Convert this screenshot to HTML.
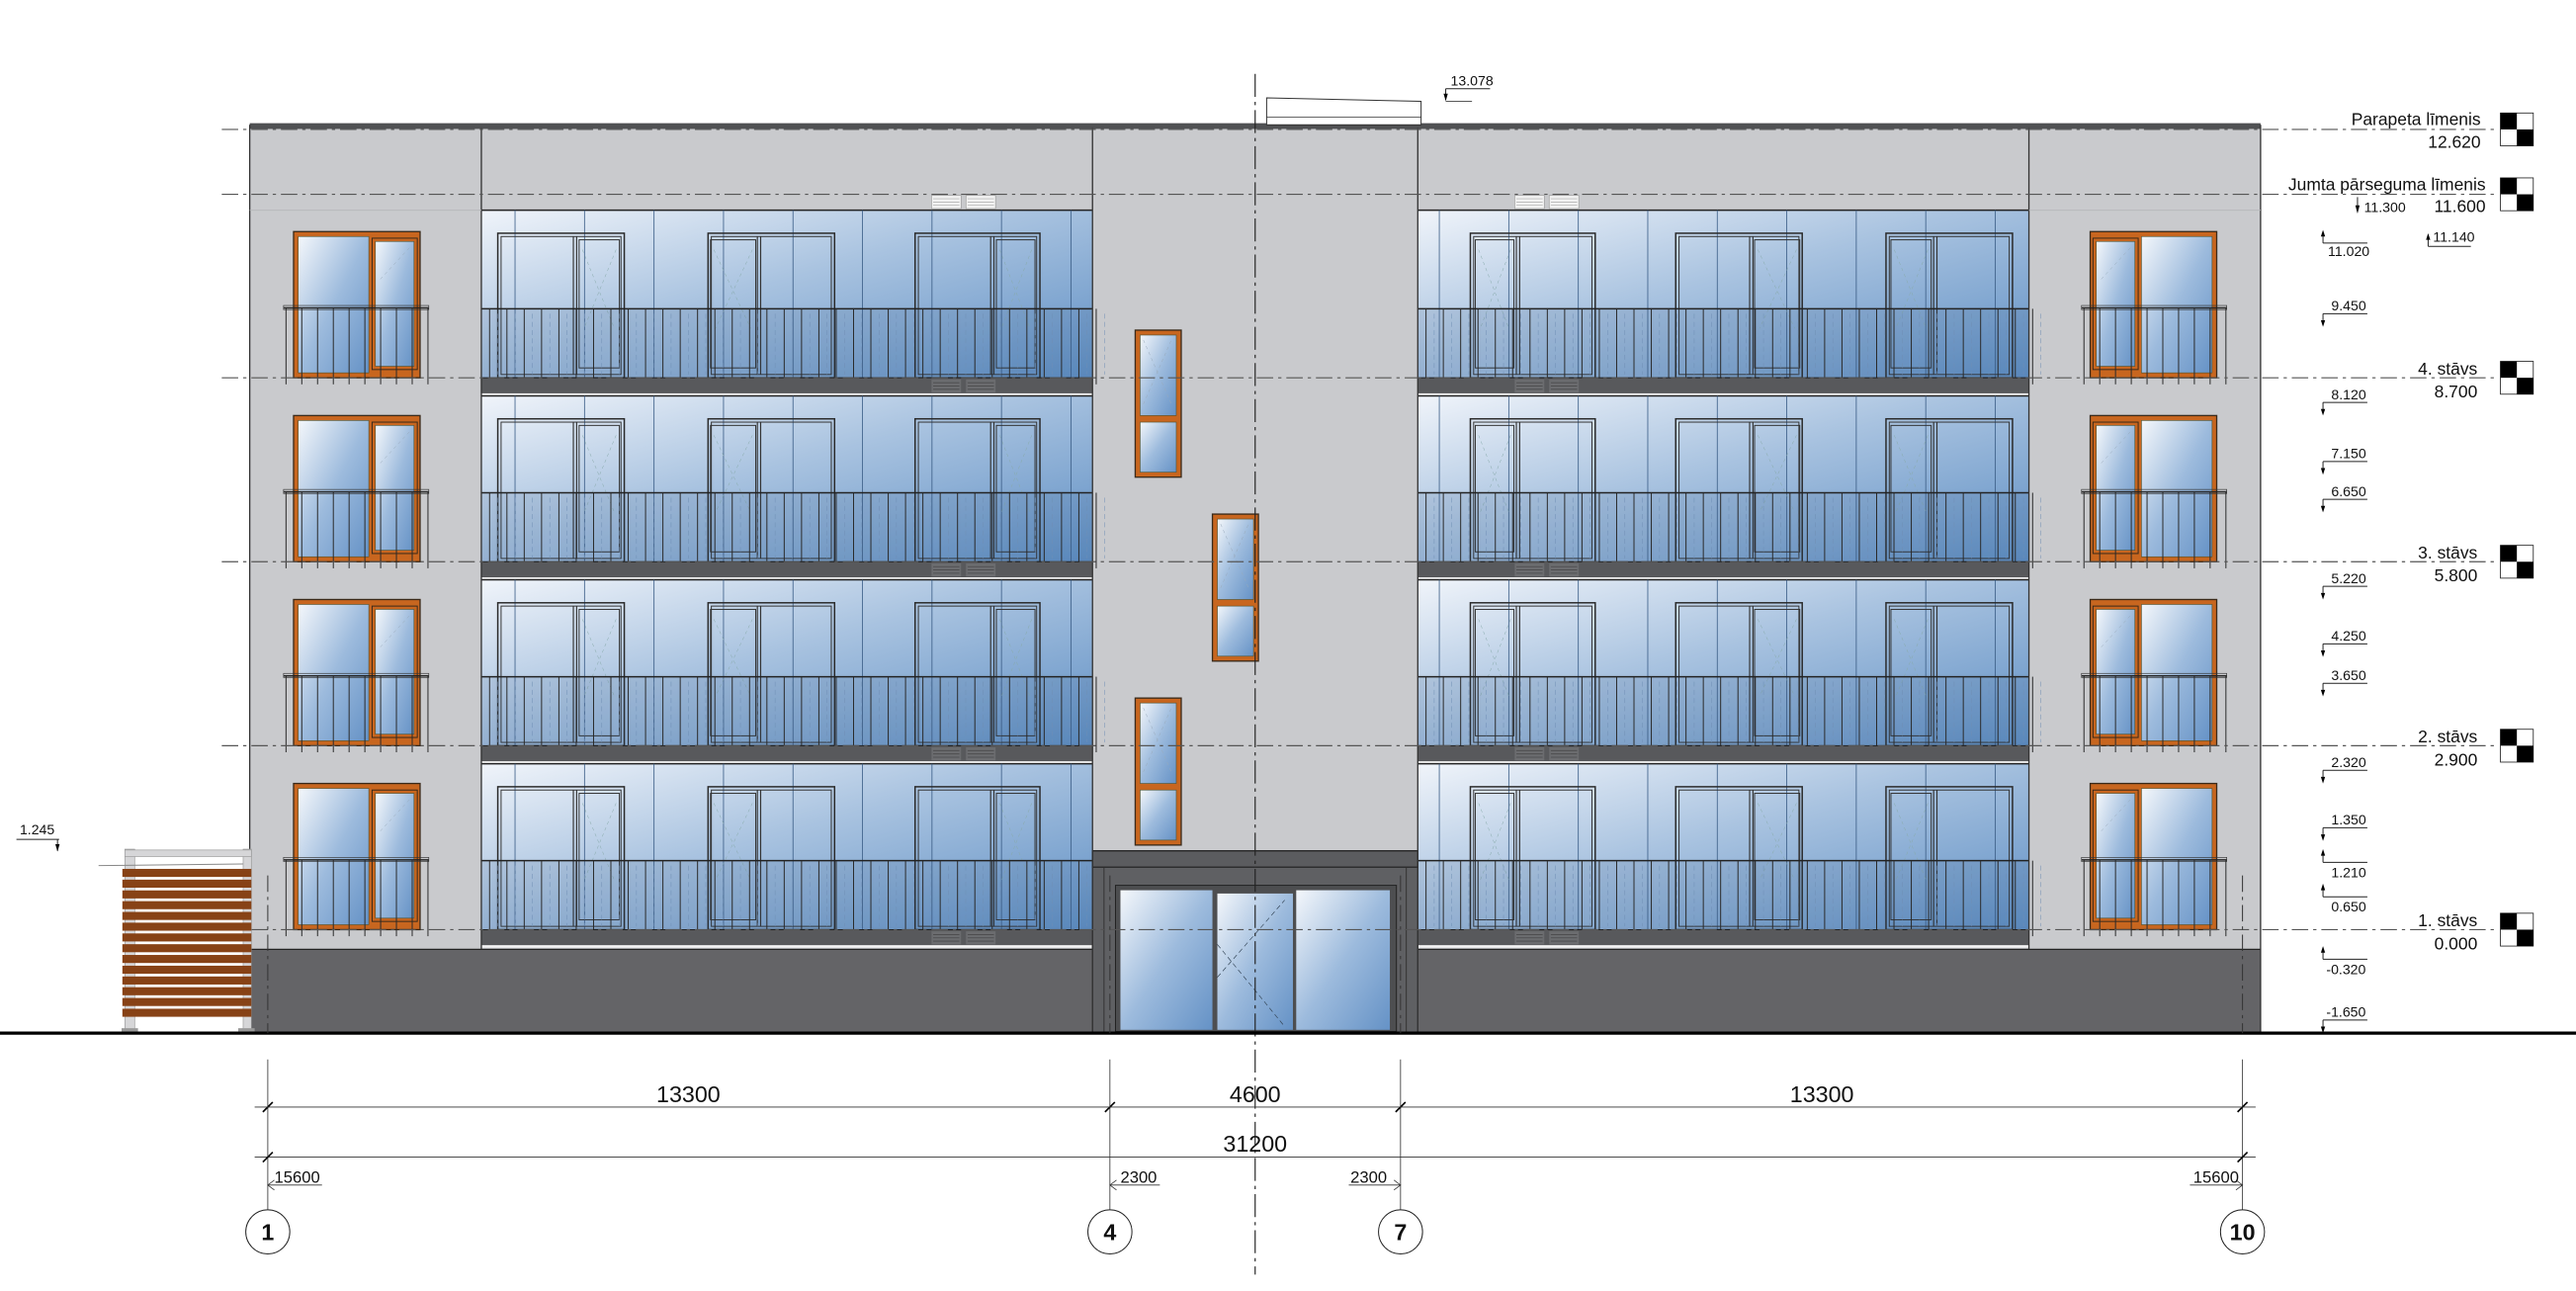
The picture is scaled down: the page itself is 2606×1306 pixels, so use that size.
<!DOCTYPE html>
<html><head><meta charset="utf-8">
<style>
html,body{margin:0;padding:0;background:#fff;}
svg{display:block;}
text{font-family:"Liberation Sans",Arial,sans-serif;fill:#111;}
</style></head>
<body>
<svg id="s" xmlns="http://www.w3.org/2000/svg" width="2606" height="1306" viewBox="0 0 1568 786" preserveAspectRatio="none">
<defs>
<linearGradient id="gl" x1="0" y1="0" x2="1" y2="1">
<stop offset="0" stop-color="#f0f4fa"/><stop offset="0.45" stop-color="#a9c3e0"/><stop offset="1" stop-color="#5f8fc4"/>
</linearGradient>
<linearGradient id="gw" x1="0" y1="0" x2="1" y2="1">
<stop offset="0" stop-color="#f4f7fb"/><stop offset="0.5" stop-color="#9dbbdd"/><stop offset="1" stop-color="#6592c6"/>
</linearGradient>
</defs>
<rect x="0" y="0" width="1568" height="786" fill="#fff"/>
<g id="bld"></g>
<g id="ann" font-size="8"></g>

<g font-size="10.5" text-anchor="end">
<text x="1510" y="76">Parapeta līmenis</text><text x="1510" y="90">12.620</text>
<text x="1513" y="116">Jumta pārseguma līmenis</text><text x="1513" y="129">11.600</text>
<text x="1508" y="228">4. stāvs</text><text x="1508" y="242">8.700</text>
<text x="1508" y="340">3. stāvs</text><text x="1508" y="354">5.800</text>
<text x="1508" y="452">2. stāvs</text><text x="1508" y="466">2.900</text>
<text x="1508" y="564">1. stāvs</text><text x="1508" y="578">0.000</text>
</g>
<g font-size="8.5">
<text x="1417" y="156">11.020</text>
<text x="1419" y="189">9.450</text>
<text x="1439" y="129">11.300</text>
<text x="1481" y="147">11.140</text>
<text x="1419" y="243">8.120</text>
<text x="1419" y="279">7.150</text>
<text x="1419" y="302">6.650</text>
<text x="1419" y="355">5.220</text>
<text x="1419" y="390">4.250</text>
<text x="1419" y="414">3.650</text>
<text x="1419" y="467">2.320</text>
<text x="1419" y="502">1.350</text>
<text x="1419" y="534">1.210</text>
<text x="1419" y="555">0.650</text>
<text x="1416" y="593">-0.320</text>
<text x="1416" y="619">-1.650</text>
<text x="883" y="52">13.078</text>
<text x="12" y="508">1.245</text>
</g>
<g font-size="14" text-anchor="middle">
<text x="419" y="671">13300</text>
<text x="764" y="671">4600</text>
<text x="1109" y="671">13300</text>
<text x="764" y="701">31200</text>
</g>
<g font-size="10">
<text x="167" y="720">15600</text>
<text x="682" y="720">2300</text>
<text x="822" y="720">2300</text>
<text x="1335" y="720">15600</text>
</g>
<g font-size="14" font-weight="bold" text-anchor="middle">
<text x="163" y="755">1</text>
<text x="675.6" y="755">4</text>
<text x="852.5" y="755">7</text>
<text x="1365" y="755">10</text>
</g>
</svg>
<script>
var NS="http://www.w3.org/2000/svg";
var B=document.getElementById('bld'), A=document.getElementById('ann');
function e(t,a,p){var n=document.createElementNS(NS,t);for(var k in a)n.setAttribute(k,a[k]);(p||B).appendChild(n);return n;}
function R(x,y,w,h,f,s,sw,p){return e('rect',{x:x,y:y,width:w,height:h,fill:f||'none',stroke:s||'none','stroke-width':sw||0.6},p);}
function L(x1,y1,x2,y2,s,sw,da,p){var a={x1:x1,y1:y1,x2:x2,y2:y2,stroke:s||'#222','stroke-width':sw||0.6};if(da)a['stroke-dasharray']=da;return e('line',a,p);}
function M(x){return 1528-x;}
var levels=[230,342,454,566];

R(152,78,1224,500,'#c9cacd');
R(665,78,198,451,'#c9cacd');
R(152,75,1224,3.5,'#505153');
R(152,578,513,51,'#646467');
R(863,578,513,51,'#646467');
L(152,578,665,578,'#222',0.8);L(863,578,1376,578,'#222',0.8);

function glazed(mir){
  var X=function(x){return mir?M(x):x;};
  var x0=293,x1=665;
  var gx=Math.min(X(x0),X(x1)), gw=372;
  [[567,585],[588,606]].forEach(function(v){var a=Math.min(X(v[0]),X(v[1]));R(a,119,18,8,'#f2f2f2','#999',0.4);for(var i=1;i<4;i++)L(a+1,119+i*2,a+17,119+i*2,'#aaa',0.4);});
  var prev=null;
  levels.forEach(function(Lv,i){
    var top=i==0?128:prev+11;
    R(gx,top,gw,Lv-top,'url(#gl)');
    L(gx,top,gx+gw,top,'#222',0.9);
    for(var k=0;k<9;k++){var mx=X(313.5+k*42.3);L(mx,top,mx,Lv,'#3d5f88',0.5);}
    var tw=top+14;
    [[303,349,351,380],[431,461,463,508],[557,603,605,633]].forEach(function(w){
      var a=Math.min(X(w[0]),X(w[3])), b=Math.max(X(w[0]),X(w[3]));
      R(a,tw,b-a,Lv-tw,'none','#2a2a2a',0.9);
      R(a+2,tw+2,b-a-4,Lv-tw-4,'none','#333',0.6);
      var s1=X(w[1]),s2=X(w[2]);
      L(s1,tw+2,s1,Lv-2,'#333',0.7);L(s2,tw+2,s2,Lv-2,'#333',0.7);
      var nA,nB; if(w[0]==431){nA=X(432.5);nB=X(460);}else{nA=X(w[2]+1.5);nB=X(w[3]-3);}
      var na=Math.min(nA,nB),nb=Math.max(nA,nB);
      R(na,tw+4,nb-na,Lv-tw-10,'none','#333',0.6);
      L(na+2,tw+10,nb-3,Lv-30,'#8aa',0.3,'2 2');L(nb-2,tw+10,na+3,Lv-30,'#8aa',0.3,'2 2');
    });
    var rt=Lv-42;
    R(gx,rt,gw,42,'rgba(50,80,120,0.12)');
    L(gx,rt,gx+gw,rt,'#222',0.9);
    for(var b=0;b<36;b++){var bx=gx+5+b*10.55;L(bx,rt,bx,Lv+4,'#2a2a2a',0.6);L(bx+5,rt+3,bx+5,Lv-2,'#6f8fb5',0.3,'3 2');}
    R(gx,Lv,gw,9.5,'#58595c');
    L(gx,Lv,gx+gw,Lv,'#222',0.6);
    [[567,585],[588,606]].forEach(function(v){var a=Math.min(X(v[0]),X(v[1]));R(a,Lv+1,18,8,'#6b6c6f');for(var j=1;j<4;j++)L(a+1,Lv+1+j*2,a+17,Lv+1+j*2,'#4a4a4c',0.5);});
    R(gx,Lv+9.5,gw,1.5,'#f4f4f4');
    prev=Lv;
  });
}
glazed(false);glazed(true);

function pier(mir){
  var X=function(x){return mir?M(x):x;};
  levels.forEach(function(Lv){
    var a=Math.min(X(178.7),X(255.7));
    R(a,Lv-89,77,89,'#c8661f','#3a2a1a',0.8);
    var p1a=Math.min(X(181.5),X(224.5)),p1b=Math.max(X(181.5),X(224.5));
    R(p1a,Lv-86,p1b-p1a,83,'url(#gw)','#553',0.4);
    var p2a=Math.min(X(227.5),X(253)),p2b=Math.max(X(227.5),X(253));
    R(p2a-1,Lv-85,p2b-p2a+2,80,'none','#3a2a1a',0.6);
    R(p2a+1,Lv-83,p2b-p2a-2,76,'url(#gw)','#553',0.4);
    L(p2a+4,Lv-60,p2b-3,Lv-80,'#9ab',0.3,'2 2');
    var ra=Math.min(X(172.6),X(261));
    L(ra,Lv-42.5,ra+88.4,Lv-42.5,'#222',0.9);
    R(ra,Lv-44,88.4,2.5,'none','#333',0.4);
    for(var b=0;b<10;b++){var bx=ra+1.5+b*9.6;L(bx,Lv-42.5,bx,Lv+4,'#2a2a2a',0.6);}
  });
}
pier(false);pier(true);

[[691,201],[738,313],[691,425]].forEach(function(w){
  var x=w[0],y=w[1];
  R(x,y,28,89.5,'#c8661f','#3a2a1a',0.8);
  R(x+3,y+3,22,49,'url(#gw)','#553',0.4);
  R(x+3,y+56,22,30.5,'url(#gw)','#553',0.4);
  L(x+5,y+45,x+22,y+6,'#9ab',0.3,'2 2');L(x+5,y+6,x+22,y+45,'#9ab',0.3,'2 2');
});

R(665,518,198,10,'#5b5c5f','#222',0.8);
R(665,528,198,101,'#5f6063','#222',0.6);
L(672,528,672,629,'#333',0.6);L(856,528,856,629,'#333',0.6);
R(679,539,171,89,'#4d4e50','#222',0.6);
R(682,542,56,85,'url(#gw)');
R(741,544,46,83,'url(#gw)');
R(789,542,57,85,'url(#gw)');
L(741,595,782,548,'#345',0.4,'3 2');L(741,575,782,625,'#345',0.4,'3 2');

[[293,78,578],[1235,78,578],[665,78,629],[863,78,629]].forEach(function(l){L(l[0],l[1],l[0],l[2],'#333',0.8);});
L(152,76,152,629,'#333',0.8);L(1376,76,1376,629,'#333',0.8);
L(152,128,293,128,'#b5b6b9',0.5);L(1235,128,1376,128,'#b5b6b9',0.5);

e('polygon',{points:'771,59.6 865,61.7 865,76 771,76',fill:'#fff',stroke:'#333','stroke-width':0.6});
L(771,71.4,865,71.4,'#333',0.5);

[78.8,118.3,230,342,454,566].forEach(function(y){L(135,y,1520,y,'#555',0.7,'10 3 2 3');});
[78.8,118.3,230,342,454,566].forEach(function(y){
  R(1522,y-10,20,20,'#fff','#222',0.5);
  R(1522,y-10,10,10,'#000');R(1532,y,10,10,'#000');
});
L(764,45,764,776,'#222',0.7,'14 3 2 3');

R(76,517,6,110,'#d6d6d8','#999',0.4);R(148,517,5,110,'#d6d6d8','#999',0.4);
R(76,517.5,77,4,'#d6d6d8','#999',0.4);
L(60,527,148,526,'#888',0.6);
for(var i=0;i<14;i++){R(74.5,529+i*6.55,78.5,4.9,'#874216');}
R(74,626,10,2,'#999');R(145,626,10,2,'#999');

L(0,629,1568,629,'#000',2);

var G=[163,675.6,852.5,1365];
G.forEach(function(x){
  L(x,533,x,629,'#333',0.6,'10 3 2 3');
  L(x,645,x,737,'#333',0.5);
  e('circle',{cx:x,cy:750,r:13.4,fill:'#fff',stroke:'#222','stroke-width':0.6});
  L(x-3,677,x+3,671,'#000',1);
});
L(155,674,1373,674,'#333',0.5);
L(155,704.5,1373,704.5,'#333',0.5);
L(160,707.5,166,701.5,'#000',1);L(1362,707.5,1368,701.5,'#000',1);
function arr(x1,x2,y){L(x1,y,x2,y,'#333',0.5);var d=x2>x1?-1:1;e('polyline',{points:(x1-d*4)+','+(y-3)+' '+x1+','+y+' '+(x1-d*4)+','+(y+3),fill:'none',stroke:'#333','stroke-width':0.5});}
arr(163,196,721.5);arr(675.6,706,721.5);arr(852.5,821,721.5);arr(1365,1333,721.5);

function mk(y,up,xa,xb){xa=xa||1414;xb=xb||1441;
  L(xa,y,xb,y,'#222',0.6);
  if(up){L(xa,y,xa,y-7,'#222',0.6);e('polygon',{points:(xa-1.3)+','+(y-4)+' '+(xa+1.3)+','+(y-4)+' '+xa+','+(y-8)});}
  else{L(xa,y,xa,y+7,'#222',0.6);e('polygon',{points:(xa-1.3)+','+(y+4)+' '+(xa+1.3)+','+(y+4)+' '+xa+','+(y+8)});}
}
mk(148,true);mk(191,false);mk(245,false);mk(281,false);mk(304,false);mk(357,false);mk(392,false);mk(416,false);mk(469,false);mk(504,false);
mk(525,true);mk(546,true);mk(584,true);mk(621,false);
L(1435,120,1435,129,'#222',0.6);e('polygon',{points:'1433.7,125 1436.3,125 1435,130'});
mk(150,true,1478,1504);
L(880,61.7,896,61.7,'#222',0.5);L(880,54,907,54,'#222',0.6);L(880,54,880,61,'#222',0.6);e('polygon',{points:'878.7,57 881.3,57 880,61.5'});
L(10,511,36,511,'#222',0.6);L(35,511,35,518,'#222',0.6);e('polygon',{points:'33.7,514 36.3,514 35,518.5'});
</script>
</body></html>
